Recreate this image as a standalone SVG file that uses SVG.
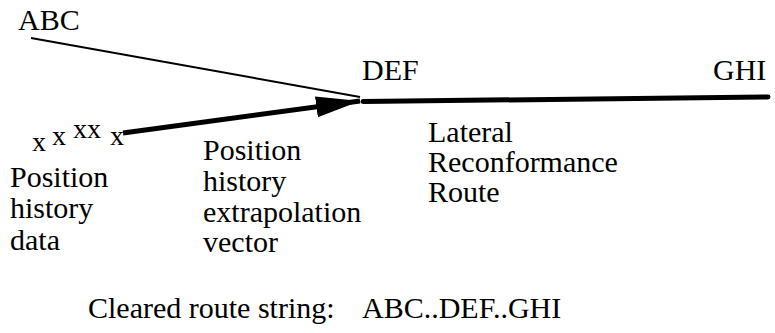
<svg xmlns="http://www.w3.org/2000/svg" width="775" height="333" viewBox="0 0 775 333">
  <style>
    .t { font-size: 30px; fill: #000; }
    .xm { font-size: 28px; }
    .thin { stroke: #000; stroke-width: 2; fill: none; }
    .thick { stroke: #000; stroke-width: 5; fill: none; stroke-linecap: round; }
  </style>
  <defs>
    <marker id="arrow" markerUnits="userSpaceOnUse" markerWidth="46" markerHeight="22" refX="44" refY="10.5" orient="auto">
      <path d="M0,0 L44,10.5 L0,21 z" fill="#000"/>
    </marker>
  </defs>
  <rect width="775" height="333" fill="#fff"/>

  <g id="connectors">
    <line class="thin" x1="31" y1="38" x2="360" y2="97"/>
    <line class="thick" x1="123" y1="133" x2="360" y2="101" style="stroke-linecap:butt" marker-end="url(#arrow)"/>
    <line class="thick" x1="363" y1="101.5" x2="768" y2="97"/>
  </g>

  <g font-family="Liberation Serif, Times New Roman, serif" class="t">
  <g id="node-abc"><text x="18" y="30">ABC</text></g>
  <g id="node-def"><text x="362" y="80">DEF</text></g>
  <g id="node-ghi"><text x="713" y="80">GHI</text></g>

  <g id="position-marks" class="xm">
    <text x="32" y="151">x</text>
    <text x="52" y="145">x</text>
    <text x="73" y="138">xx</text>
    <text x="110" y="145">x</text>
  </g>

  <g id="label-history-data">
    <text x="10" y="187">Position</text>
    <text x="10" y="218">history</text>
    <text x="10" y="250">data</text>
  </g>

  <g id="label-extrapolation">
    <text x="203" y="160">Position</text>
    <text x="203" y="191">history</text>
    <text x="203" y="222">extrapolation</text>
    <text x="203" y="252">vector</text>
  </g>

  <g id="label-lateral">
    <text x="428" y="142">Lateral</text>
    <text x="428" y="172">Reconformance</text>
    <text x="428" y="202">Route</text>
  </g>

  <g id="label-cleared">
    <text x="88" y="318">Cleared route string:<tspan x="362">ABC..DEF..GHI</tspan></text>
  </g>
  </g>
</svg>
